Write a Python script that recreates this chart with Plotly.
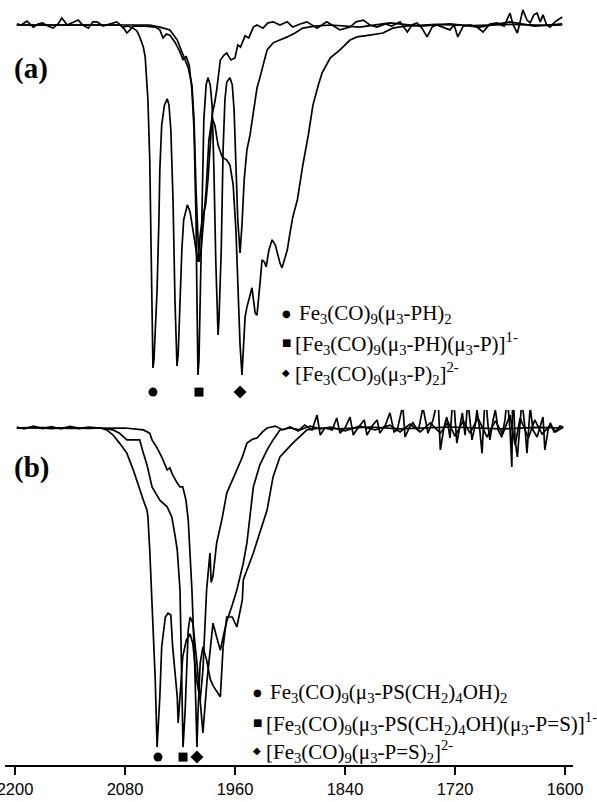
import plotly.graph_objects as go

# ---------------- data (wavenumber in cm-1, transmittance in %) ----------------
TICK_VALUES = [2200, 2080, 1960, 1840, 1720, 1600]

# Panel (a)
A1_WN = [2198, 2193, 2187, 2180, 2175, 2170, 2164, 2158.5, 2153, 2149, 2143, 2138, 2131, 2126, 2120, 2115,
         2110.5, 2104, 2096, 2089, 2082, 2077, 2071, 2067, 2064, 2060, 2058, 2056, 2055, 2053, 2052, 2050.5,
         2049.5, 2048.4, 2047.3, 2045, 2043, 2042, 2040, 2037, 2034, 2032, 2030, 2027.6, 2025.5, 2024.4, 2023.3,
         2022, 2020, 2018, 2016, 2012, 2009, 2006, 2002.5, 2000.4, 1998, 1995, 1992, 1989.5, 1987, 1985, 1982,
         1980, 1976, 1972, 1969, 1964.5, 1960, 1957, 1954, 1949, 1945, 1940, 1936, 1929.5, 1924, 1918.5, 1911,
         1903, 1897, 1889, 1881.5, 1870.5, 1860, 1853, 1845.5, 1834.5, 1828, 1820, 1813, 1805, 1796, 1789, 1780,
         1772, 1767, 1761.5, 1756, 1750.5, 1745, 1740, 1732, 1725.5, 1721, 1717, 1711, 1703.6, 1696, 1689.5,
         1682, 1674, 1666.5, 1660, 1657, 1652, 1649, 1646, 1641.5, 1638, 1634, 1630.5, 1627, 1624, 1620, 1616.4,
         1611, 1608, 1603]
A1_T = [100.3, 100, 101.1, 99.4, 100.3, 100.6, 99.7, 99.1, 100.3, 102, 100, 100.6, 101.4, 100, 99.1, 100.9,
        100.9, 99.7, 100.3, 100.9, 99.4, 99.7, 99.1, 98.3, 96.6, 93.7, 90.9, 84.3, 78.6, 61.4, 41.4, 21.4,
        2, 4.3, 11.4, 24.3, 44.3, 58.6, 71.4, 77.1, 78.9, 77.1, 70, 50, 21.4, 8.6, 2.6,
        5.7, 21.4, 35.7, 44.3, 48.6, 46.6, 42, 35.7, 32.3, 40, 45.7, 48.6, 55.7, 65.7, 74.3, 78,
        81.4, 90, 91.4, 92, 90, 90.6, 94.3, 93.7, 96.9, 96.3, 99.4, 100, 99.1, 100.6, 100.9, 100,
        100.9, 99.4, 100.3, 100.9, 99.1, 100.9, 99.7, 98.6, 99.4, 100.9, 101.4, 100, 99.4, 100.3, 99.7, 100.9,
        98, 100, 100.6, 99.1, 96.6, 99.4, 100, 99.1, 98.6, 100, 96.6, 99.7, 100, 99.4, 98,
        100.3, 100.6, 99.7, 103.4, 100.3, 97.7, 100.9, 104.3, 101.4, 100.6, 102.9, 103.4, 100.9, 102.9, 100, 99.4,
        100.9, 101.4, 102.3]

A2_WN = [2198, 2173, 2129, 2096, 2085.5, 2081, 2078, 2074.5, 2071, 2058, 2047, 2042, 2038.5, 2035, 2031,
         2025.5, 2020, 2016.7, 2013.5, 2010, 2007, 2004.7, 2002.5, 2001.5, 2000.4, 1999.3, 1998, 1996, 1994,
         1991.5, 1989.5, 1987, 1985, 1983, 1981, 1978.5, 1977.5, 1975, 1973, 1971, 1969, 1965.5, 1963, 1961,
         1959, 1957, 1954.5, 1952.4, 1950, 1947, 1943.6, 1940, 1936, 1932.7, 1928, 1925, 1918.5, 1911, 1903,
         1894.5, 1886, 1873, 1856, 1824, 1791, 1758, 1725.5, 1693, 1660, 1633, 1603]
A2_T = [100, 100, 100, 100, 100, 98.9, 97.7, 98.6, 99.7, 99.7, 99.4, 98.6, 96.3, 97.4, 97.1,
        95.1, 92.3, 90, 91.1, 88.6, 81.4, 70, 44.3, 21.4, 0, 4.3, 21.4, 50, 72.9,
        82.9, 84.9, 82.9, 77.1, 58.6, 32.9, 11.4, 15.7, 35.7, 64.3, 78.6, 83.7, 84.9, 82.9, 75.7,
        58.6, 44.3, 34.9, 42.9, 55.7, 64.3, 68.6, 75.7, 82, 85.1, 90, 92.9, 94.9, 95.7, 96.6,
        97.7, 99.1, 99.7, 100, 99.4, 100.6, 99.7, 100.3, 99.4, 100.9, 99.7, 100.3]

A3_WN = [2198, 2150, 2100, 2053, 2042, 2031, 2023, 2016.7, 2011, 2007, 2004.7, 2002.5, 2000.4, 1999.3, 1997,
         1995, 1991.5, 1988.5, 1985, 1982, 1978.5, 1974, 1969, 1965.5, 1962, 1959, 1957, 1954.5, 1952.4, 1950,
         1949, 1947, 1943.6, 1941.5, 1938, 1936, 1932.7, 1930.5, 1928, 1926, 1923, 1919.6, 1916, 1914, 1911,
         1908.7, 1905.5, 1903, 1900, 1897, 1892, 1886, 1880, 1875, 1869, 1865, 1856, 1845.5, 1834.5, 1827,
         1813, 1798.5, 1788, 1774.5, 1740, 1700, 1660, 1620, 1603]
A3_T = [100, 100, 100, 100, 99.4, 98.6, 95.7, 91.4, 87.7, 82.9, 72.9, 52.9, 37.1, 32.3, 35.7,
        42.9, 52.9, 67.1, 73.4, 71.4, 65.7, 62.3, 61.4, 60, 54.3, 41.4, 24.3, 8.6, 0, 10,
        16.6, 19.4, 22.9, 24.9, 17.7, 17.1, 26.3, 32.9, 32.3, 30.9, 35.7, 38.6, 37.1, 34.9, 32,
        30.6, 33.4, 35.7, 40.6, 45.1, 50, 60, 68.6, 77.1, 82.9, 86.3, 90.6, 92.9, 95.7, 96.6,
        97.1, 97.7, 99.1, 99.7, 100.2, 99.8, 100.2, 99.9, 100]

# Panel (b)
B1_WN = [2198, 2190, 2180, 2170, 2160, 2150, 2140, 2130, 2120, 2107, 2100, 2093, 2086, 2078, 2071, 2064,
         2060, 2056, 2055, 2053, 2051, 2047, 2045, 2042, 2040, 2036, 2033, 2030, 2028, 2023, 2022, 2020,
         2017, 2013, 2009, 2006, 2002, 1998, 1995, 1991, 1988.5, 1987.3, 1986, 1984, 1980, 1974, 1969, 1963,
         1958, 1952, 1947, 1941, 1936, 1930, 1925,
         1916, 1908, 1900, 1891, 1884, 1876, 1870.5, 1867, 1862, 1854, 1849, 1845.5, 1840, 1834.5, 1831, 1826,
         1819, 1816, 1810.5, 1805, 1802, 1796, 1791, 1786.5, 1783, 1777, 1774.5, 1770, 1766, 1760, 1755,
         1749.5, 1744, 1738.5, 1736, 1732, 1729, 1725.5, 1722, 1718, 1714.5, 1712, 1709, 1706, 1701.5, 1698,
         1696, 1693, 1690.5, 1687, 1684, 1682, 1678.5, 1676, 1673, 1669, 1665.5, 1663, 1660, 1658, 1657,
         1654.5, 1652, 1649, 1647, 1643.5, 1641.5, 1638, 1635, 1630.5, 1627, 1624, 1622, 1618.5, 1616, 1612,
         1609, 1605.5, 1602]
B1_T = [100.3, 99.7, 100.6, 99.8, 100.4, 99.7, 100.5, 99.8, 100.3, 100, 99.4, 97.8, 95.3, 92.2, 87, 80.7,
        77.6, 74.5, 72.4, 62.1, 49.7, 21.7, 0.9, 16.5, 32, 41.3, 42.5, 41.9, 32, 16.5, 8.4, 15.5,
        29, 34.2, 36, 33, 22, 15.5, 24.8, 49.7, 58, 61.2, 52, 54, 64.3, 72, 79.8, 84,
        87, 91, 95.3, 96.5, 96.9, 98.8, 100,
        100.6, 99.4, 100.3, 99.1, 100.9, 99.4, 104, 97.8, 100, 99.4, 103.1, 98.4, 100, 103.4, 97.8, 100,
        102.5, 97.8, 100.6, 102.5, 98.4, 100.9, 104.7, 98.8, 99.4, 107.1, 97.2, 100, 101.6, 99.1, 106.5,
        98.4, 102.5, 109.3, 93.2, 100.3, 103.4, 96.9, 110.9, 95.3, 100.9, 104.7, 97.8, 108.7, 96.3, 100.9,
        105.6, 99.4, 92.2, 110.9, 100.9, 96.3, 102.5, 105.6, 99.4, 97.2, 102.5, 109.6, 99.4, 87.9, 114.9,
        96.3, 91, 100.9, 108.7, 99.4, 92.2, 106.5, 99.4, 97.2, 100.9, 103.4, 93.2, 99.4, 101.6, 98.8,
        99.4, 100.6, 100.3]

B2_WN = [2198, 2180, 2160, 2140, 2120, 2107, 2093, 2086, 2078, 2071, 2064, 2060, 2056, 2050.5, 2042, 2034,
         2031, 2029, 2025.5, 2023, 2020, 2018, 2016.7, 2014.5, 2011, 2009, 2006, 2001.5, 1995, 1990.5, 1987,
         1984, 1980, 1976, 1973, 1969, 1963, 1958, 1951, 1947, 1940, 1933, 1925, 1918.5, 1911, 1900,
         1889, 1878, 1867, 1856, 1840, 1824, 1807, 1791, 1780, 1769, 1758, 1747, 1736, 1727.6, 1720, 1711,
         1703.6, 1695, 1685, 1676, 1668, 1660, 1654.5, 1649, 1640, 1633, 1625, 1616, 1610, 1602]
B2_T = [100, 100.2, 99.8, 100.2, 99.9, 100, 99.4, 98.4, 96.3, 96.3, 96.3, 92.2, 88.5, 81.7, 77.6, 75.5,
        73.9, 72.4, 66.8, 62.1, 49.7, 21.7, 0.9, 11.5, 37.3, 41.3, 39.4, 27, 5.3, 21.7, 32,
        39.4, 35, 31, 35, 40, 45, 49.7, 58, 64.3, 81.7, 88.5, 93.2, 96.3, 99.4, 100,
        99.4, 100.6, 99.7, 100.3, 99.1, 100.6, 99.4, 100.9, 98.8, 101.2, 98.8, 101.6, 98.4, 101.9, 97.5, 102.2,
        98.4, 103.1, 97.2, 102.2, 98.1, 104, 94.7, 103.1, 96.9, 102.5, 98.1, 100.9, 98.8, 100.3]

B3_WN = [2198, 2170, 2140, 2110, 2080, 2060, 2053, 2050.5, 2045, 2040, 2034, 2031, 2028, 2023, 2020, 2017,
         2013.5, 2011, 2009, 2007, 2004, 2001.5, 2000.4, 1998, 1995, 1991, 1987, 1984, 1976, 1973, 1969, 1963,
         1958, 1952, 1951, 1940, 1925, 1918.5, 1911, 1897, 1881.5, 1867, 1845, 1813, 1780, 1725, 1670, 1630,
         1602]
B3_T = [100, 100.1, 99.9, 100, 100, 99.4, 98.4, 96.3, 93.8, 91, 87, 87.6, 85.4, 82.9, 81.7, 81.7,
        77.6, 71.4, 62.1, 49.7, 27, 0.9, 11.5, 27, 32, 28, 22, 20, 16.5, 32, 41.3, 41.3,
        38.2, 46.6, 52.8, 61.2, 74.5, 84.8, 91, 95.3, 99.4, 100, 99.7, 100.3, 99.7, 100.3, 99.7, 100.2,
        100]

# band positions marked under each panel (circle, square, diamond)
A_MARK_WN = [2049.5, 1999.3, 1954.5]
B_MARK_WN = [2044, 2016.7, 2001.5]
MARK_SYMBOLS = ["circle", "square", "diamond"]

LEGEND_A = ["Fe<sub>3</sub>(CO)<sub>9</sub>(\u03bc<sub>3</sub>-PH)<sub>2</sub>",
            "[Fe<sub>3</sub>(CO)<sub>9</sub>(\u03bc<sub>3</sub>-PH)(\u03bc<sub>3</sub>-P)]<sup>1-</sup>",
            "[Fe<sub>3</sub>(CO)<sub>9</sub>(\u03bc<sub>3</sub>-P)<sub>2</sub>]<sup>2-</sup>"]
LEGEND_B = ["Fe<sub>3</sub>(CO)<sub>9</sub>(\u03bc<sub>3</sub>-PS(CH<sub>2</sub>)<sub>4</sub>OH)<sub>2</sub>",
            "[Fe<sub>3</sub>(CO)<sub>9</sub>(\u03bc<sub>3</sub>-PS(CH<sub>2</sub>)<sub>4</sub>OH)(\u03bc<sub>3</sub>-P=S)]<sup>1-</sup>",
            "[Fe<sub>3</sub>(CO)<sub>9</sub>(\u03bc<sub>3</sub>-P=S)<sub>2</sub>]<sup>2-</sup>"]
PANEL_LABELS = ["(a)", "(b)"]

# ---------------- figure ----------------
W, H = 597, 802
ML, MR, MT, MB = 5, 24, 0, 37
PW, PH = W - ML - MR, H - MT - MB


def px(x):
    return (x - ML) / PW


def py(y):
    return (PH - (y - MT)) / PH


fig = go.Figure()
LINE = dict(color="black", width=1.7)
for wn, t in [(A1_WN, A1_T), (A2_WN, A2_T), (A3_WN, A3_T)]:
    fig.add_trace(go.Scatter(x=wn, y=t, xaxis="x", yaxis="y2", mode="lines", line=LINE,
                             hoverinfo="skip", showlegend=False))
for wn, t in [(B1_WN, B1_T), (B2_WN, B2_T), (B3_WN, B3_T)]:
    fig.add_trace(go.Scatter(x=wn, y=t, xaxis="x", yaxis="y", mode="lines", line=LINE,
                             hoverinfo="skip", showlegend=False))

MSIZE = [9, 9, 10]
MARKER = dict(symbol=MARK_SYMBOLS, size=MSIZE, color="black", opacity=1, line=dict(width=0))
fig.add_trace(go.Scatter(x=A_MARK_WN, y=[-4.9] * 3, xaxis="x", yaxis="y2", mode="markers",
                         marker=MARKER, hoverinfo="skip", showlegend=False, cliponaxis=False))
fig.add_trace(go.Scatter(x=B_MARK_WN, y=[-2.2] * 3, xaxis="x", yaxis="y", mode="markers",
                         marker=MARKER, hoverinfo="skip", showlegend=False, cliponaxis=False))

SERIF = "Liberation Serif, Times New Roman, serif"
BULLETS = ["\u25cf", "\u25a0", "\u25c6"]
ann = []
# legends
for i, (lab, yy) in enumerate(zip(LEGEND_A, [313, 343, 372])):
    ann.append(dict(x=px(286), y=py(yy), xref="paper", yref="paper", text=BULLETS[i],
                    showarrow=False, xanchor="center", yanchor="middle",
                    font=dict(family="DejaVu Sans", size=10, color="black")))
    ann.append(dict(x=px(297 if i == 0 else 293), y=py(yy + 1), xref="paper", yref="paper", text=lab,
                    showarrow=False, xanchor="left", yanchor="middle", font=dict(family=SERIF, size=21, color="black")))
for i, (lab, yy) in enumerate(zip(LEGEND_B, [692, 722, 750])):
    ann.append(dict(x=px(257), y=py(yy), xref="paper", yref="paper", text=BULLETS[i],
                    showarrow=False, xanchor="center", yanchor="middle",
                    font=dict(family="DejaVu Sans", size=10, color="black")))
    ann.append(dict(x=px(268 if i == 0 else 264), y=py(yy + 1), xref="paper", yref="paper", text=lab,
                    showarrow=False, xanchor="left", yanchor="middle", font=dict(family=SERIF, size=21, color="black")))
# panel labels
for lab, yy in zip(PANEL_LABELS, [68, 467]):
    ann.append(dict(x=px(31), y=py(yy), xref="paper", yref="paper", text="<b>" + lab + "</b>",
                    showarrow=False, xanchor="center", yanchor="middle", font=dict(family=SERIF, size=29, color="black")))

fig.update_layout(
    width=W, height=H,
    margin=dict(l=ML, r=MR, t=MT, b=MB, pad=0),
    paper_bgcolor="white", plot_bgcolor="white",
    showlegend=False,
    annotations=ann,
    xaxis=dict(range=[2210.9, 1591.3], tickvals=TICK_VALUES, ticktext=[str(v) for v in TICK_VALUES],
               ticks="outside", ticklen=8, tickwidth=2, tickcolor="black",
               showline=True, linewidth=2, linecolor="black", showgrid=False, zeroline=False,
               tickfont=dict(family="Liberation Sans, Arial, sans-serif", size=16.5, color="black"),
               anchor="y", automargin=False, ticklabeloverflow="allow", fixedrange=True),
    yaxis=dict(domain=[0, 0.5163], range=[-4.66, 118.0], visible=False, fixedrange=True),
    yaxis2=dict(domain=[0.4641, 1], range=[-10.0, 107.14], visible=False, anchor="x", fixedrange=True),
)

fig.write_html("out.html", config={"displayModeBar": False})

# remove the browser's default page margin so the figure sits at the window origin
with open("out.html", "r", encoding="utf-8") as f:
    html = f.read()
html = html.replace("<head>", "<head><style>html,body{margin:0;padding:0;overflow:hidden;}</style>", 1)
with open("out.html", "w", encoding="utf-8") as f:
    f.write(html)
